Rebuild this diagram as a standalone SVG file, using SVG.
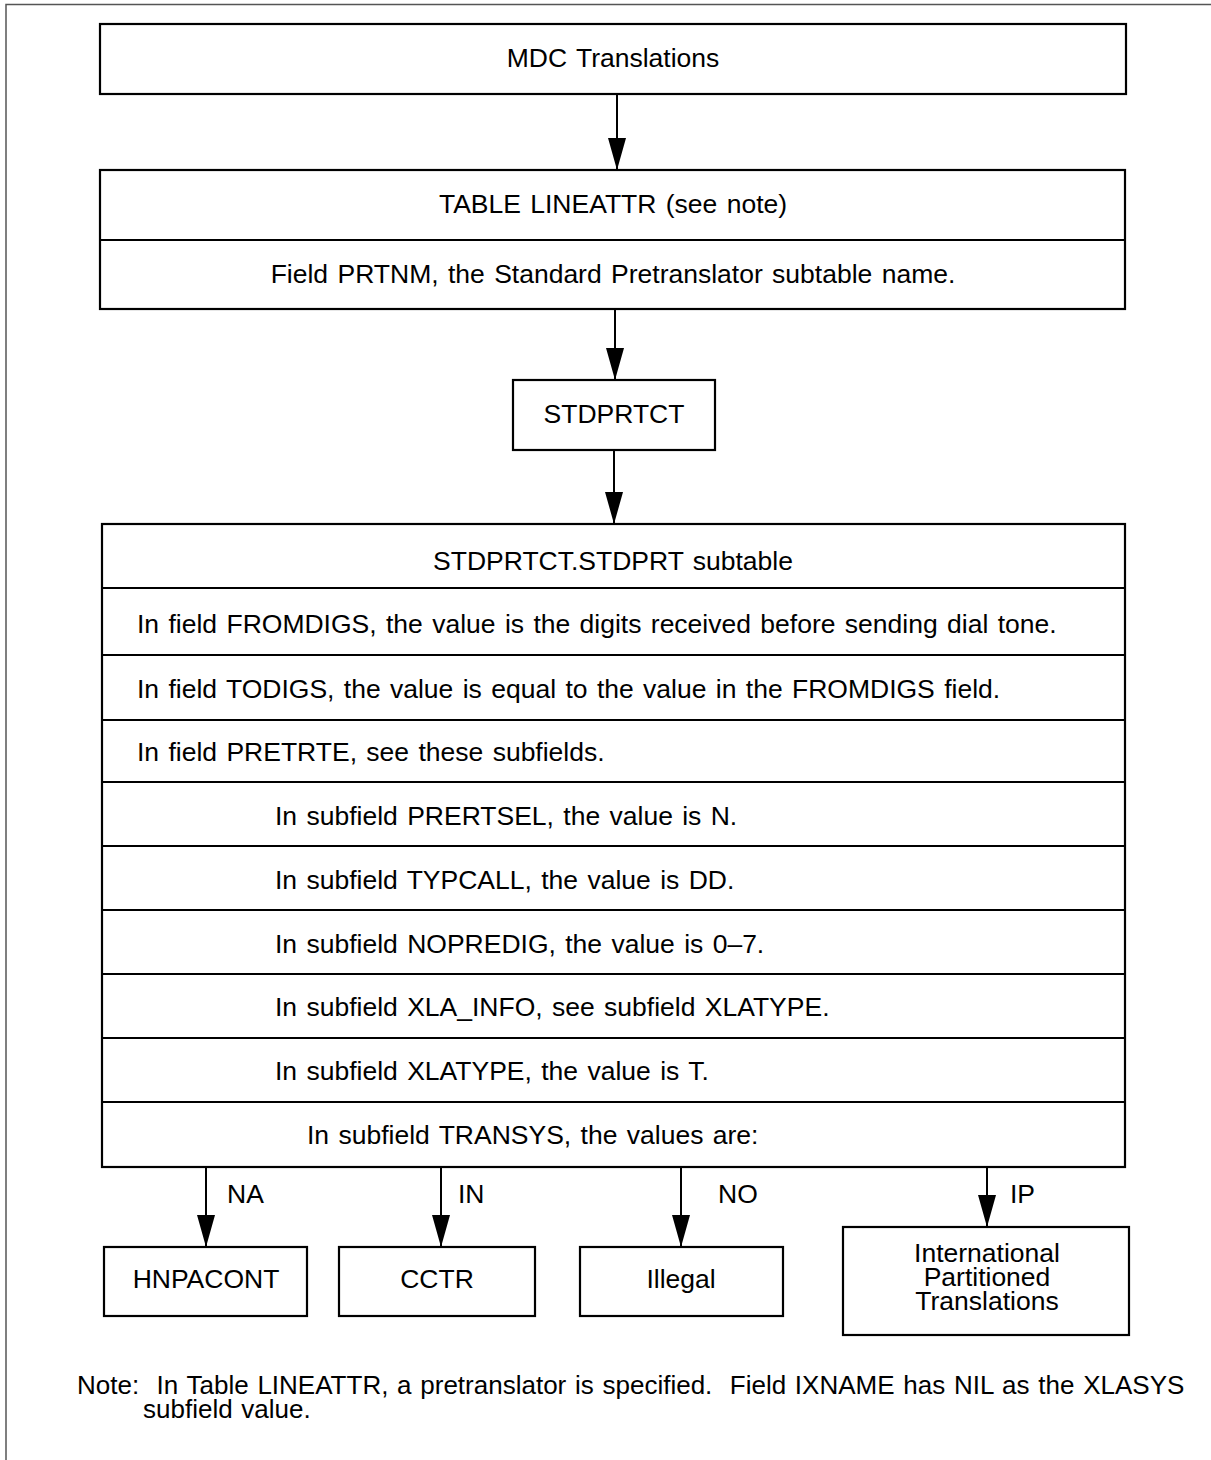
<svg xmlns="http://www.w3.org/2000/svg" width="1211" height="1460" viewBox="0 0 1211 1460">
  <style>
    text { font-family: "Liberation Sans", Arial, sans-serif; font-size: 26.5px; fill: #000; word-spacing: 2px; }
    .c { text-anchor: middle; }
    .note { font-size: 26px; word-spacing: 1.5px; }
    .box { fill: #fff; stroke: #000; stroke-width: 2.2; }
    .row { fill: none; stroke: #000; stroke-width: 2; }
    .wire { fill: none; stroke: #000; stroke-width: 2; }
    .frame { fill: none; stroke: #555; stroke-width: 1.5; }
  </style>
  <defs>
    <!-- long, narrow filled arrowhead; tip sits on the end of the line -->
    <marker id="arrow" markerUnits="userSpaceOnUse" markerWidth="32" markerHeight="18" refX="32" refY="9" viewBox="0 0 32 18" orient="auto">
      <path d="M0,0 L32,9 L0,18 Z" fill="#000"/>
    </marker>
  </defs>

  <rect width="1211" height="1460" fill="#fff"/>
  <path class="frame" d="M6,1460 V4.5 H1211"/>

  <!-- connectors -->
  <g id="connectors">
    <line class="wire" x1="617" y1="94" x2="617" y2="170" marker-end="url(#arrow)"/>
    <line class="wire" x1="615" y1="309" x2="615" y2="380" marker-end="url(#arrow)"/>
    <line class="wire" x1="614" y1="450" x2="614" y2="524" marker-end="url(#arrow)"/>
    <line class="wire" x1="206" y1="1167" x2="206" y2="1247" marker-end="url(#arrow)"/>
    <line class="wire" x1="441" y1="1167" x2="441" y2="1247" marker-end="url(#arrow)"/>
    <line class="wire" x1="681" y1="1167" x2="681" y2="1247" marker-end="url(#arrow)"/>
    <line class="wire" x1="987" y1="1167" x2="987" y2="1227" marker-end="url(#arrow)"/>
    <text x="227" y="1203">NA</text>
    <text x="458" y="1203">IN</text>
    <text x="718" y="1203">NO</text>
    <text x="1010" y="1203">IP</text>
  </g>

  <g id="mdc">
    <rect class="box" x="100" y="24" width="1026" height="70"/>
    <text class="c" x="613" y="67">MDC Translations</text>
  </g>

  <g id="lineattr">
    <rect class="box" x="100" y="170" width="1025" height="139"/>
    <line class="row" x1="100" y1="240" x2="1125" y2="240"/>
    <text class="c" x="613" y="213">TABLE LINEATTR (see note)</text>
    <text class="c" x="613" y="283">Field PRTNM, the Standard Pretranslator subtable name.</text>
  </g>

  <g id="stdprtct">
    <rect class="box" x="513" y="380" width="202" height="70"/>
    <text class="c" x="614" y="423">STDPRTCT</text>
  </g>

  <g id="stdprt-subtable">
    <rect class="box" x="102" y="524" width="1023" height="643"/>
    <line class="row" x1="102" y1="588" x2="1125" y2="588"/>
    <line class="row" x1="102" y1="655" x2="1125" y2="655"/>
    <line class="row" x1="102" y1="720" x2="1125" y2="720"/>
    <line class="row" x1="102" y1="782" x2="1125" y2="782"/>
    <line class="row" x1="102" y1="846" x2="1125" y2="846"/>
    <line class="row" x1="102" y1="910" x2="1125" y2="910"/>
    <line class="row" x1="102" y1="974" x2="1125" y2="974"/>
    <line class="row" x1="102" y1="1038" x2="1125" y2="1038"/>
    <line class="row" x1="102" y1="1102" x2="1125" y2="1102"/>
    <text class="c" x="613" y="570">STDPRTCT.STDPRT subtable</text>
    <text x="137" y="633">In field FROMDIGS, the value is the digits received before sending dial tone.</text>
    <text x="137" y="698">In field TODIGS, the value is equal to the value in the FROMDIGS field.</text>
    <text x="137" y="761">In field PRETRTE, see these subfields.</text>
    <text x="275" y="825">In subfield PRERTSEL, the value is N.</text>
    <text x="275" y="889">In subfield TYPCALL, the value is DD.</text>
    <text x="275" y="953">In subfield NOPREDIG, the value is 0–7.</text>
    <text x="275" y="1016">In subfield XLA_INFO, see subfield XLATYPE.</text>
    <text x="275" y="1080">In subfield XLATYPE, the value is T.</text>
    <text x="307" y="1144">In subfield TRANSYS, the values are:</text>
  </g>

  <g id="hnpacont">
    <rect class="box" x="104" y="1247" width="203" height="69"/>
    <text class="c" x="206" y="1288">HNPACONT</text>
  </g>

  <g id="cctr">
    <rect class="box" x="339" y="1247" width="196" height="69"/>
    <text class="c" x="437" y="1288">CCTR</text>
  </g>

  <g id="illegal">
    <rect class="box" x="580" y="1247" width="203" height="69"/>
    <text class="c" x="681" y="1288">Illegal</text>
  </g>

  <g id="international">
    <rect class="box" x="843" y="1227" width="286" height="108"/>
    <text class="c" x="987" y="1262">International</text>
    <text class="c" x="987" y="1286">Partitioned</text>
    <text class="c" x="987" y="1310">Translations</text>
  </g>

  <g id="note">
    <text class="note" x="77" y="1394" xml:space="preserve">Note:  In Table LINEATTR, a pretranslator is specified.  Field IXNAME has NIL as the XLASYS</text>
    <text class="note" x="143" y="1418">subfield value.</text>
  </g>
</svg>
